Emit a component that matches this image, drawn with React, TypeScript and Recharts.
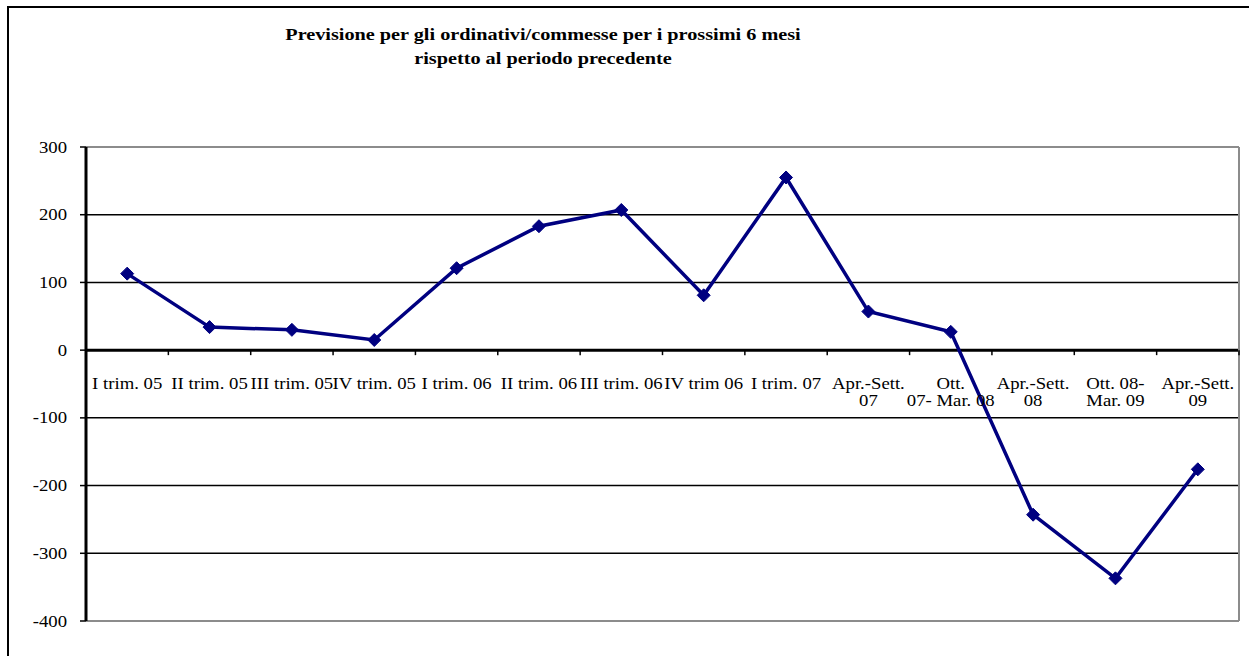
import React from "react";
import { CartesianGrid, Line, LineChart, ReferenceLine, XAxis, YAxis } from "recharts";

const periods = [
  "I trim. 05",
  "II trim. 05",
  "III trim. 05",
  "IV trim. 05",
  "I trim. 06",
  "II trim. 06",
  "III trim. 06",
  "IV trim 06",
  "I trim. 07",
  "Apr.-Sett.\n07",
  "Ott.\n07- Mar. 08",
  "Apr.-Sett.\n08",
  "Ott. 08-\nMar. 09",
  "Apr.-Sett.\n09"
];
const forecast = [113, 34, 30, 15, 121, 183, 207, 81, 255, 57, 27, -243, -337, -176];
const yTicks = [-400, -300, -200, -100, 0, 100, 200, 300];
const titleLines = ["Previsione per gli ordinativi/commesse per i prossimi 6 mesi", "rispetto al periodo precedente"];

const WIDTH = 1249;
const HEIGHT = 656;
const MARGIN = { top: 147, right: 10, bottom: 34, left: 0 };
const X_AXIS_H = 1;
const Y_AXIS_W = 86;
const Y_MIN = -400;
const Y_MAX = 300;
const PLOT_H = HEIGHT - MARGIN.top - MARGIN.bottom - X_AXIS_H;
const PLOT_W = WIDTH - MARGIN.left - MARGIN.right - Y_AXIS_W;
const ZERO_Y = MARGIN.top + (PLOT_H * Y_MAX) / (Y_MAX - Y_MIN);
const BAND = PLOT_W / periods.length;

const FONT = "'Liberation Serif', 'DejaVu Serif', serif";
const NAVY = "#000080";
const FRAME = "#8c8c8c";
const STRETCH = 1.17;

const data = periods.map((period, i) => ({ period, value: forecast[i] }));

function YTick({ x, y, payload }: any) {
  return (
    <text
      transform={`translate(${x} ${y}) scale(${STRETCH} 1)`}
      textAnchor="end"
      dy="0.35em"
      fontFamily={FONT}
      fontSize={16}
      fill="#000"
    >
      {payload.value}
    </text>
  );
}

// category labels hang under the zero line, not under the plot;
// the last one also closes the frame on the right
function PeriodTick({ x, payload, index }: any) {
  const lines = String(payload.value).split("\n");
  const left = x - BAND / 2;
  const right = x + BAND / 2;
  const last = index === periods.length - 1;
  return (
    <g>
      <line x1={left} x2={left} y1={ZERO_Y} y2={ZERO_Y + 5} stroke="#000" strokeWidth={1.5} />
      {last && (
        <>
          <line x1={right} x2={right} y1={MARGIN.top} y2={MARGIN.top + PLOT_H} stroke={FRAME} strokeWidth={2} />
          <line x1={right} x2={right} y1={ZERO_Y} y2={ZERO_Y + 5} stroke="#000" strokeWidth={1.5} />
        </>
      )}
      {lines.map((line, i) => (
        <text
          key={i}
          transform={`translate(${x} ${ZERO_Y + 33 + i * 17}) scale(${STRETCH} 1)`}
          textAnchor="middle"
          dy="0.35em"
          fontFamily={FONT}
          fontSize={16}
          fill="#000"
        >
          {line}
        </text>
      ))}
    </g>
  );
}

function Diamond({ cx, cy }: any) {
  const r = 6.5;
  return <polygon points={`${cx},${cy - r} ${cx + r},${cy} ${cx},${cy + r} ${cx - r},${cy}`} fill={NAVY} stroke={NAVY} />;
}

export default function App() {
  return (
    <div style={{ position: "absolute", left: 0, top: 0, width: WIDTH, height: HEIGHT, background: "#fff", overflow: "hidden" }}>
      <div
        style={{
          position: "absolute",
          left: 7,
          top: 6,
          width: WIDTH,
          height: HEIGHT,
          borderLeft: "2px solid #000",
          borderTop: "2px solid #000"
        }}
      />
      <div
        style={{
          position: "absolute",
          left: 0,
          top: 23,
          width: 1086,
          textAlign: "center",
          fontFamily: FONT,
          fontWeight: "bold",
          fontSize: 17,
          lineHeight: "24px",
          transform: "scaleX(1.19)",
          transformOrigin: "center"
        }}
      >
        {titleLines.map((line) => (
          <div key={line}>{line}</div>
        ))}
      </div>
      <div style={{ position: "absolute", left: 0, top: 0 }}>
        <LineChart width={WIDTH} height={HEIGHT} data={data} margin={MARGIN}>
          <CartesianGrid vertical={false} stroke="#000" strokeWidth={1.5} />
          <ReferenceLine y={Y_MAX} stroke={FRAME} strokeWidth={2} />
          <ReferenceLine y={0} stroke="#000" strokeWidth={3} />
          <XAxis
            dataKey="period"
            height={X_AXIS_H}
            padding={{ left: BAND / 2, right: BAND / 2 }}
            axisLine={{ stroke: FRAME, strokeWidth: 2 }}
            tickLine={false}
            interval={0}
            tick={(props: any) => <PeriodTick {...props} />}
          />
          <YAxis
            width={Y_AXIS_W}
            domain={[Y_MIN, Y_MAX]}
            ticks={yTicks}
            interval={0}
            axisLine={{ stroke: "#000", strokeWidth: 3 }}
            tickLine={{ stroke: "#000", strokeWidth: 1.5 }}
            tickSize={6}
            tickMargin={13}
            tick={<YTick />}
          />
          <Line
            type="linear"
            dataKey="value"
            stroke={NAVY}
            strokeWidth={3.5}
            dot={<Diamond />}
            activeDot={false}
            isAnimationActive={false}
          />
        </LineChart>
      </div>
    </div>
  );
}
